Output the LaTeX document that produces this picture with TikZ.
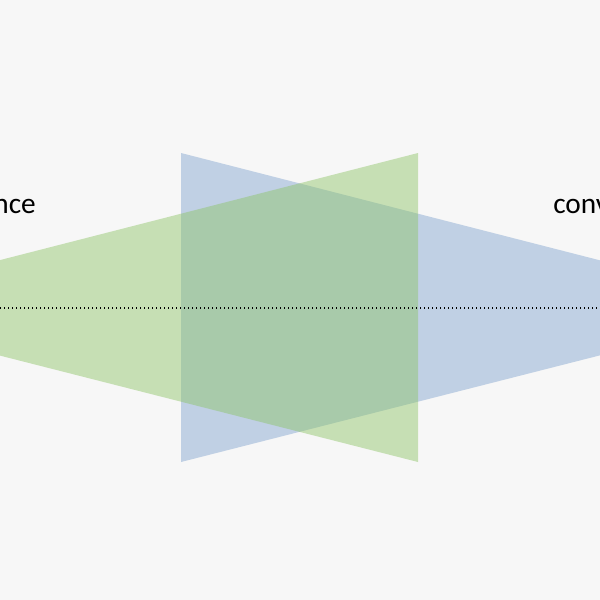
\documentclass[tikz,border=0pt]{standalone}
\usepackage{fontspec}
\setmainfont{Carlito}
\begin{document}
\begin{tikzpicture}[x=0.75pt,y=0.75pt,yscale=-1,xscale=1,
  lbl/.style={inner sep=0pt,font=\fontsize{22}{26}\selectfont}]
  \useasboundingbox (0,0) rectangle (600,600);
  \clip (0,0) rectangle (600,600);
  \fill [black!3] (0,0) rectangle (600,600);

  %Blue triangle (converging)
  \fill [fill={rgb,255:red,110;green,150;blue,200},fill opacity=0.4] (181,153) -- (181,462) -- (786,308) -- cycle ;
  %Green triangle (diverging)
  \fill [fill={rgb,255:red,140;green,195;blue,100},fill opacity=0.45] (418,153) -- (418,462) -- (-187,308) -- cycle ;

  %Axis
  \draw [dotted,line width=1] (0,308) -- (600,308) ;

  % Text Node
  \node (div) [lbl,anchor=base east] at (36,213) {divergence};
  % Text Node
  \node (con) [lbl,anchor=base west] at (553,213) {convergence};
\end{tikzpicture}
\end{document}
